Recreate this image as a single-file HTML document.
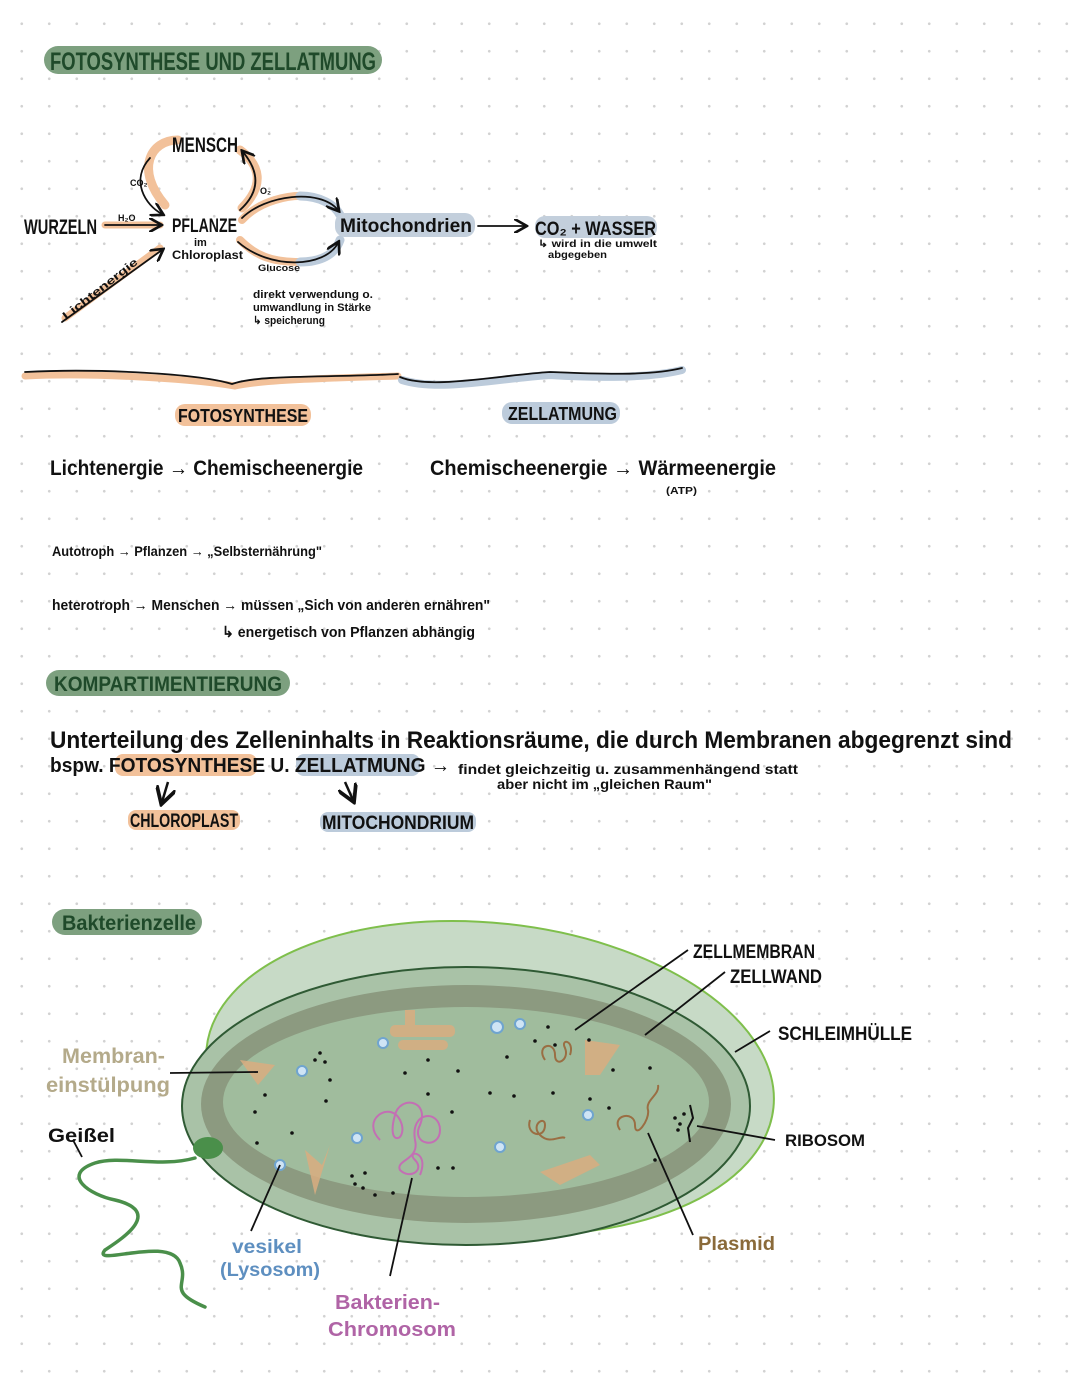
<!DOCTYPE html>
<html><head><meta charset="utf-8">
<style>
html,body{margin:0;padding:0;background:#fff;}
body{width:1080px;height:1394px;overflow:hidden;
background-image:radial-gradient(circle,#d2d2d2 1.1px,transparent 1.6px);background-size:27.5px 27.5px;background-position:8px 10px;}
svg{position:absolute;left:0;top:0;}
text{font-family:"Liberation Sans Narrow","Liberation Sans",sans-serif;font-weight:bold;}
</style></head><body>
<svg width="1080" height="1394" viewBox="0 0 1080 1394" xmlns="http://www.w3.org/2000/svg">
<defs><marker id="a" markerWidth="8" markerHeight="8" refX="6" refY="4" orient="auto"><path d="M0,0 L7,4 L0,8" fill="none" stroke="#111" stroke-width="1.5"/></marker></defs>
<rect x="44" y="46" width="338" height="28" rx="14" fill="#7da07f"/>
<text x="50" y="70" font-size="25" fill="#1f4a2a" textLength="326" lengthAdjust="spacingAndGlyphs">FOTOSYNTHESE UND ZELLATMUNG</text>

<g fill="none" stroke-linecap="round">
<path d="M165,205 C135,170 150,140 178,140" stroke="#f2c19a" stroke-width="9"/>
<path d="M242,208 C265,185 260,165 240,150" stroke="#f2c19a" stroke-width="9"/>
<path d="M105,225 L160,225" stroke="#f2c19a" stroke-width="7"/>
<path d="M65,318 L160,248" stroke="#f2c19a" stroke-width="7"/>
<path d="M242,220 C260,200 290,195 305,196" stroke="#f2c19a" stroke-width="8"/>
<path d="M240,240 C255,255 270,262 300,262" stroke="#f2c19a" stroke-width="8"/>
<path d="M300,196 C320,196 335,205 340,215" stroke="#bccbdb" stroke-width="9"/>
<path d="M300,262 C320,262 335,255 340,240" stroke="#bccbdb" stroke-width="9"/>
<path d="M25,376 C100,372 200,380 235,386 C260,380 330,378 398,376" stroke="#f2c19a" stroke-width="7"/>
<path d="M402,380 C440,392 500,378 550,375 C600,378 650,378 682,370" stroke="#bccbdb" stroke-width="8"/>
</g>
<rect x="335" y="213" width="140" height="24" rx="10" fill="#c3cfdc"/>
<rect x="535" y="216" width="122" height="22" rx="10" fill="#c3cfdc"/>
<g fill="none" stroke="#111" stroke-width="1.8" stroke-linecap="round">
<path d="M150,158 C130,180 145,205 162,214" marker-end="url(#a)"/>
<path d="M240,210 C262,190 258,170 243,152" marker-end="url(#a)"/>
<path d="M105,225 L160,225" marker-end="url(#a)"/>
<path d="M62,322 L162,250" marker-end="url(#a)"/>
<path d="M242,218 C265,195 320,188 338,210" marker-end="url(#a)"/>
<path d="M238,242 C270,270 325,268 338,243" marker-end="url(#a)"/>
<path d="M478,226 L525,226" marker-end="url(#a)"/>
<path d="M25,372 C100,368 200,374 232,384 C260,374 330,378 398,374"/>
<path d="M400,377 C430,390 500,375 550,372 C600,374 650,376 682,368"/>
</g>
<text x="172" y="152" font-size="21" fill="#111" textLength="66" lengthAdjust="spacingAndGlyphs">MENSCH</text>
<text x="130" y="186" font-size="9" fill="#111">CO₂</text>
<text x="260" y="194" font-size="9" fill="#111">O₂</text>
<text x="118" y="221" font-size="9" fill="#111">H₂O</text>
<text x="24" y="234" font-size="21" fill="#111" textLength="73" lengthAdjust="spacingAndGlyphs">WURZELN</text>
<text x="172" y="232" font-size="19" fill="#111" textLength="65" lengthAdjust="spacingAndGlyphs">PFLANZE</text>
<text x="194" y="246" font-size="11" fill="#111">im</text>
<text x="172" y="259" font-size="12" fill="#111" textLength="71" lengthAdjust="spacingAndGlyphs">Chloroplast</text>
<text x="258" y="271" font-size="9" fill="#111" textLength="42" lengthAdjust="spacingAndGlyphs">Glucose</text>
<text x="66" y="320" font-size="11" fill="#111" transform="rotate(-38 66 320)" textLength="92" lengthAdjust="spacingAndGlyphs">Lichtenergie</text>
<text x="340" y="232" font-size="19" fill="#111" textLength="132" lengthAdjust="spacingAndGlyphs">Mitochondrien</text>
<text x="535" y="235" font-size="19" fill="#111" textLength="121" lengthAdjust="spacingAndGlyphs">CO₂ + WASSER</text>
<text x="538" y="247" font-size="10" fill="#111" textLength="119" lengthAdjust="spacingAndGlyphs">↳ wird in die umwelt</text>
<text x="548" y="258" font-size="10" fill="#111" textLength="59" lengthAdjust="spacingAndGlyphs">abgegeben</text>
<text x="253" y="298" font-size="11" fill="#111" textLength="120" lengthAdjust="spacingAndGlyphs">direkt verwendung o.</text>
<text x="253" y="311" font-size="11" fill="#111" textLength="118" lengthAdjust="spacingAndGlyphs">umwandlung in Stärke</text>
<text x="253" y="324" font-size="11" fill="#111" textLength="72" lengthAdjust="spacingAndGlyphs">↳ speicherung</text>

<rect x="175" y="404" width="136" height="22" rx="10" fill="#f2c19a"/>
<text x="178" y="422" font-size="18" fill="#111" textLength="130" lengthAdjust="spacingAndGlyphs">FOTOSYNTHESE</text>
<rect x="502" y="402" width="118" height="22" rx="10" fill="#bccbdb"/>
<text x="508" y="420" font-size="18" fill="#111" textLength="109" lengthAdjust="spacingAndGlyphs">ZELLATMUNG</text>

<text x="50" y="475" font-size="21" fill="#111" textLength="313" lengthAdjust="spacingAndGlyphs">Lichtenergie → Chemischeenergie</text>
<text x="430" y="475" font-size="21" fill="#111" textLength="346" lengthAdjust="spacingAndGlyphs">Chemischeenergie → Wärmeenergie</text>
<text x="666" y="494" font-size="10" fill="#111" textLength="31" lengthAdjust="spacingAndGlyphs">(ATP)</text>

<text x="52" y="556" font-size="14" fill="#111" font-weight="normal" textLength="270" lengthAdjust="spacingAndGlyphs">Autotroph → Pflanzen → „Selbsternährung"</text>
<text x="52" y="610" font-size="15" fill="#111" font-weight="normal" textLength="438" lengthAdjust="spacingAndGlyphs">heterotroph → Menschen → müssen „Sich von anderen ernähren"</text>
<text x="222" y="637" font-size="15" fill="#111" font-weight="normal" textLength="253" lengthAdjust="spacingAndGlyphs">↳ energetisch von Pflanzen abhängig</text>

<rect x="46" y="670" width="244" height="26" rx="13" fill="#7da07f"/>
<text x="54" y="691" font-size="21" fill="#1f4a2a" textLength="228" lengthAdjust="spacingAndGlyphs">KOMPARTIMENTIERUNG</text>

<text x="50" y="748" font-size="24" fill="#111" textLength="962" lengthAdjust="spacingAndGlyphs">Unterteilung des Zelleninhalts in Reaktionsräume, die durch Membranen abgegrenzt sind</text>
<rect x="115" y="754" width="142" height="22" rx="8" fill="#f2c19a"/>
<rect x="296" y="754" width="124" height="22" rx="8" fill="#bccbdb"/>
<text x="50" y="772" font-size="20" fill="#111" textLength="400" lengthAdjust="spacingAndGlyphs">bspw. FOTOSYNTHESE U. ZELLATMUNG →</text>
<text x="458" y="774" font-size="14" fill="#111" font-weight="normal" textLength="340" lengthAdjust="spacingAndGlyphs">findet gleichzeitig u. zusammenhängend statt</text>
<text x="497" y="789" font-size="14" fill="#111" font-weight="normal" textLength="215" lengthAdjust="spacingAndGlyphs">aber nicht im „gleichen Raum"</text>
<path d="M168,782 L162,802" stroke="#111" stroke-width="2.5" fill="none" marker-end="url(#a)"/>
<path d="M345,782 L353,800" stroke="#111" stroke-width="2.5" fill="none" marker-end="url(#a)"/>
<rect x="128" y="810" width="112" height="20" rx="8" fill="#f2c19a"/>
<text x="130" y="827" font-size="19" fill="#111" textLength="108" lengthAdjust="spacingAndGlyphs">CHLOROPLAST</text>
<rect x="320" y="812" width="156" height="20" rx="8" fill="#bccbdb"/>
<text x="322" y="829" font-size="19" fill="#111" textLength="152" lengthAdjust="spacingAndGlyphs">MITOCHONDRIUM</text>

<rect x="52" y="909" width="150" height="26" rx="13" fill="#7da07f"/>
<text x="62" y="930" font-size="21" fill="#1f4a2a" textLength="134" lengthAdjust="spacingAndGlyphs">Bakterienzelle</text>

<ellipse cx="490" cy="1078" rx="285" ry="155" transform="rotate(6 490 1078)" fill="#c7dac6" stroke="#7fbf4c" stroke-width="2"/>
<ellipse cx="466" cy="1106" rx="284" ry="139" fill="#a9c2a7" stroke="#2f5a34" stroke-width="2"/>
<ellipse cx="466" cy="1104" rx="265" ry="119" fill="#8c9a80"/>
<ellipse cx="466" cy="1102" rx="243" ry="95" fill="#a0bc9d"/>
<g fill="#d9ad80" opacity="0.85">
<rect x="390" y="1025" width="65" height="12" rx="5"/><rect x="398" y="1040" width="50" height="10" rx="5"/><rect x="405" y="1010" width="10" height="20"/>
<path d="M240,1060 L275,1065 L258,1085 Z"/>
<path d="M305,1150 L322,1165 L330,1145 L315,1195 Z"/>
<path d="M540,1172 L590,1155 L600,1165 L560,1185 Z"/>
<path d="M585,1040 L620,1045 L600,1075 L585,1075 Z"/>
</g>
<g fill="#cfe4f5" stroke="#6fa4cf" stroke-width="2">
<circle cx="383" cy="1043" r="5"/><circle cx="497" cy="1027" r="6"/><circle cx="520" cy="1024" r="5"/>
<circle cx="302" cy="1071" r="5"/><circle cx="357" cy="1138" r="5"/><circle cx="280" cy="1165" r="5"/>
<circle cx="588" cy="1115" r="5"/><circle cx="500" cy="1147" r="5"/>
</g>
<g fill="#111">
<circle cx="320" cy="1053" r="1.8"/><circle cx="325" cy="1062" r="1.8"/><circle cx="315" cy="1060" r="1.8"/>
<circle cx="265" cy="1095" r="1.8"/><circle cx="255" cy="1112" r="1.8"/><circle cx="292" cy="1133" r="1.8"/><circle cx="257" cy="1143" r="1.8"/>
<circle cx="326" cy="1101" r="1.8"/><circle cx="330" cy="1080" r="1.8"/><circle cx="405" cy="1073" r="1.8"/><circle cx="428" cy="1060" r="1.8"/>
<circle cx="458" cy="1071" r="1.8"/><circle cx="428" cy="1094" r="1.8"/><circle cx="452" cy="1112" r="1.8"/><circle cx="438" cy="1168" r="1.8"/>
<circle cx="490" cy="1093" r="1.8"/><circle cx="514" cy="1096" r="1.8"/><circle cx="507" cy="1057" r="1.8"/><circle cx="548" cy="1027" r="1.8"/>
<circle cx="535" cy="1041" r="1.8"/><circle cx="555" cy="1045" r="1.8"/><circle cx="589" cy="1040" r="1.8"/><circle cx="553" cy="1093" r="1.8"/>
<circle cx="613" cy="1070" r="1.8"/><circle cx="590" cy="1099" r="1.8"/><circle cx="609" cy="1108" r="1.8"/><circle cx="650" cy="1068" r="1.8"/>
<circle cx="655" cy="1160" r="1.8"/><circle cx="365" cy="1173" r="1.8"/><circle cx="375" cy="1195" r="1.8"/><circle cx="355" cy="1184" r="1.8"/>
<circle cx="352" cy="1176" r="1.8"/><circle cx="393" cy="1193" r="1.8"/><circle cx="363" cy="1188" r="1.8"/><circle cx="453" cy="1168" r="1.8"/>
<circle cx="675" cy="1118" r="1.8"/><circle cx="680" cy="1124" r="1.8"/><circle cx="678" cy="1130" r="1.8"/><circle cx="684" cy="1114" r="1.8"/>
</g>
<g fill="none" stroke="#c36fb4" stroke-width="2">
<path d="M380,1140 C360,1120 390,1100 400,1120 C410,1140 385,1150 395,1115 C400,1095 430,1100 420,1125 C410,1145 440,1150 440,1130 C440,1110 410,1110 415,1140 C420,1160 395,1160 400,1170 C410,1180 425,1170 415,1160 C405,1150 430,1150 420,1175"/>
</g>
<g fill="none" stroke="#9a6e43" stroke-width="2">
<path d="M545,1060 C535,1045 555,1040 555,1055 C555,1068 570,1060 565,1048 C560,1038 575,1040 570,1055"/>
<path d="M530,1120 C525,1135 545,1140 545,1125 C545,1115 530,1125 540,1135 C550,1145 560,1135 565,1138"/>
<path d="M620,1130 C610,1115 635,1110 635,1125 C635,1140 650,1120 648,1110 C645,1100 660,1095 658,1085"/>
</g>
<path d="M690,1105 L693,1118 L688,1128 L690,1142" stroke="#111" stroke-width="2" fill="none"/>
<ellipse cx="208" cy="1148" rx="15" ry="11" fill="#4a8f4a"/>
<path d="M195,1158 C160,1168 120,1155 95,1163 C60,1175 90,1195 115,1200 C165,1212 120,1240 105,1250 C90,1268 170,1235 180,1263 C190,1285 165,1290 205,1307" fill="none" stroke="#4a8f4a" stroke-width="3.5" stroke-linecap="round"/>
<g stroke="#111" stroke-width="1.8" fill="none">
<line x1="170" y1="1073" x2="258" y2="1072"/>
<line x1="73" y1="1140" x2="82" y2="1157"/>
<line x1="280" y1="1165" x2="251" y2="1231"/>
<line x1="412" y1="1178" x2="390" y2="1276"/>
<line x1="575" y1="1030" x2="688" y2="950"/>
<line x1="645" y1="1035" x2="725" y2="972"/>
<line x1="735" y1="1052" x2="770" y2="1031"/>
<line x1="697" y1="1126" x2="775" y2="1140"/>
<line x1="648" y1="1133" x2="693" y2="1235"/>
</g>
<text x="62" y="1063" font-size="21" fill="#b4aa8a" textLength="103" lengthAdjust="spacingAndGlyphs">Membran-</text>
<text x="46" y="1092" font-size="21" fill="#b4aa8a" textLength="124" lengthAdjust="spacingAndGlyphs">einstülpung</text>
<text x="48" y="1142" font-size="19" fill="#111" textLength="67" lengthAdjust="spacingAndGlyphs">Geißel</text>
<text x="232" y="1253" font-size="19" fill="#5e8fc0" textLength="70" lengthAdjust="spacingAndGlyphs">vesikel</text>
<text x="220" y="1276" font-size="19" fill="#5e8fc0" textLength="100" lengthAdjust="spacingAndGlyphs">(Lysosom)</text>
<text x="335" y="1309" font-size="20" fill="#b064a6" textLength="105" lengthAdjust="spacingAndGlyphs">Bakterien-</text>
<text x="328" y="1336" font-size="20" fill="#b064a6" textLength="128" lengthAdjust="spacingAndGlyphs">Chromosom</text>
<text x="693" y="958" font-size="19" fill="#111" textLength="122" lengthAdjust="spacingAndGlyphs">ZELLMEMBRAN</text>
<text x="730" y="983" font-size="19" fill="#111" textLength="92" lengthAdjust="spacingAndGlyphs">ZELLWAND</text>
<text x="778" y="1040" font-size="19" fill="#111" textLength="134" lengthAdjust="spacingAndGlyphs">SCHLEIMHÜLLE</text>
<text x="785" y="1146" font-size="17" fill="#111" textLength="80" lengthAdjust="spacingAndGlyphs">RIBOSOM</text>
<text x="698" y="1250" font-size="19" fill="#8a6a3a" textLength="77" lengthAdjust="spacingAndGlyphs">Plasmid</text>
</svg>
</body></html>
